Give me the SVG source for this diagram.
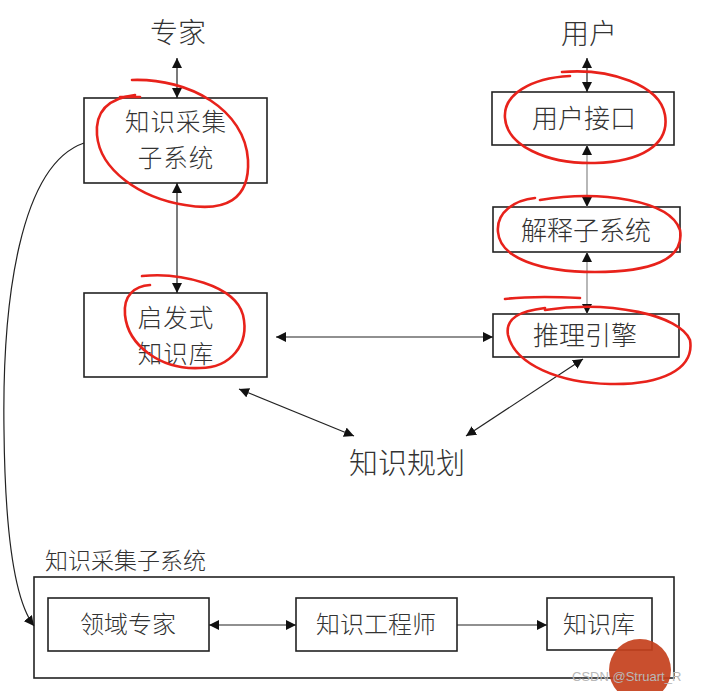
<svg xmlns="http://www.w3.org/2000/svg" width="701" height="691" viewBox="0 0 701 691">
<style>
.box{fill:#fff;stroke:#222;stroke-width:1.6}
.t{font-family:"Noto Sans CJK SC","Liberation Sans",sans-serif;fill:#333;text-anchor:middle;font-weight:300}
.c{stroke:#222;stroke-width:1.2;fill:none}
.g{stroke:#888;stroke-width:1.2;fill:none}
.red{stroke:#e8221b;stroke-width:2.6;fill:none;stroke-linecap:round}
</style>
<defs>
<marker id="ah" viewBox="0 0 10 10" refX="10" refY="5" markerWidth="10" markerHeight="10" markerUnits="userSpaceOnUse" orient="auto-start-reverse">
<path d="M0,0 L10,5 L0,10 Z" fill="#111"/>
</marker>
</defs>
<rect width="701" height="691" fill="#fff"/>

<g id="expert"><text class="t" x="178" y="43" font-size="28">专家</text></g>
<g id="user"><text class="t" x="589" y="44" font-size="28">用户</text></g>

<g id="acq"><rect class="box" x="84" y="98" width="183" height="85"/>
<text class="t" font-size="24.5" letter-spacing="1"><tspan x="176" y="131">知识采集</tspan><tspan x="176" y="167">子系统</tspan></text></g>

<g id="kb"><rect class="box" x="84" y="293" width="183" height="84"/>
<text class="t" font-size="24.5" letter-spacing="1"><tspan x="176" y="327">启发式</tspan><tspan x="176" y="363">知识库</tspan></text></g>

<g id="ui"><rect class="box" x="492" y="92" width="182" height="53"/>
<text class="t" x="584" y="128" font-size="26">用户接口</text></g>

<g id="expl"><rect class="box" x="493" y="207" width="187" height="45"/>
<text class="t" x="586" y="240" font-size="26">解释子系统</text></g>

<g id="infer"><rect class="box" x="493" y="314" width="186" height="43"/>
<text class="t" x="585" y="345" font-size="26">推理引擎</text></g>

<g id="plan"><text class="t" x="407" y="474" font-size="29">知识规划</text></g>

<g id="sub"><text class="t" x="45" y="569" font-size="23" style="text-anchor:start">知识采集子系统</text>
<rect class="box" x="34" y="577" width="640" height="101"/></g>

<g id="domain"><rect class="box" x="48" y="598" width="161" height="53"/>
<text class="t" x="128" y="633" font-size="24">领域专家</text></g>
<g id="engineer"><rect class="box" x="296" y="598" width="161" height="53"/>
<text class="t" x="376" y="633" font-size="24">知识工程师</text></g>
<g id="kb2"><rect class="box" x="547" y="598" width="105" height="52"/>
<text class="t" x="599" y="633" font-size="24">知识库</text></g>

<g id="connectors">
<line class="c" x1="177" y1="58" x2="177" y2="98" marker-start="url(#ah)" marker-end="url(#ah)"/>
<line class="c" x1="177" y1="183" x2="177" y2="293" marker-start="url(#ah)" marker-end="url(#ah)"/>
<line class="c" x1="587" y1="58" x2="587" y2="92" marker-start="url(#ah)" marker-end="url(#ah)"/>
<line class="g" x1="587" y1="145" x2="587" y2="207" marker-start="url(#ah)" marker-end="url(#ah)"/>
<line class="g" x1="587" y1="252" x2="587" y2="314" marker-start="url(#ah)" marker-end="url(#ah)"/>
<line class="c" x1="276" y1="337" x2="493" y2="337" marker-start="url(#ah)" marker-end="url(#ah)"/>
<line class="c" x1="239" y1="389" x2="354" y2="436" marker-start="url(#ah)" marker-end="url(#ah)"/>
<line class="c" x1="583" y1="359" x2="466" y2="436" marker-start="url(#ah)" marker-end="url(#ah)"/>
<path class="c" d="M84,143 C20,165 2,300 4,430 C5,530 14,600 34,626" marker-end="url(#ah)"/>
<line class="c" x1="209" y1="625" x2="296" y2="625" marker-start="url(#ah)" marker-end="url(#ah)"/>
<line class="c" x1="457" y1="625" x2="547" y2="625" marker-end="url(#ah)"/>
</g>

<g id="annotations">
<path class="red" d="M132,80 C190,78 245,110 248,160 C250,200 225,212 185,205 C140,198 100,170 97,135 C95,110 110,98 135,95"/>
<path class="red" d="M120,97 L140,97"/>
<path class="red" d="M142,276 C180,272 235,285 243,315 C250,345 230,368 200,368 C160,370 128,345 125,315 C123,295 135,286 150,285"/>
<path class="red" d="M562,72 C610,68 660,85 665,115 C670,145 640,162 595,163 C545,164 507,145 505,118 C503,95 530,78 570,76"/>
<path class="red" d="M540,200 C600,190 670,200 680,230 C685,260 650,272 595,272 C540,272 500,258 498,232 C496,212 515,200 535,198"/>
<path class="red" d="M505,299 C530,296 560,297 580,298"/>
<path class="red" d="M545,310 C610,300 680,315 690,340 C695,370 660,385 610,384 C560,383 515,365 508,335 C505,318 520,311 545,308"/>
</g>

<g id="seal"><circle cx="640" cy="670" r="31" fill="#c4401c" opacity="0.92"/></g>
<text x="572" y="681" font-family="Liberation Sans, sans-serif" font-size="13" fill="#b8b8b8">CSDN @Struart_R</text>
</svg>
